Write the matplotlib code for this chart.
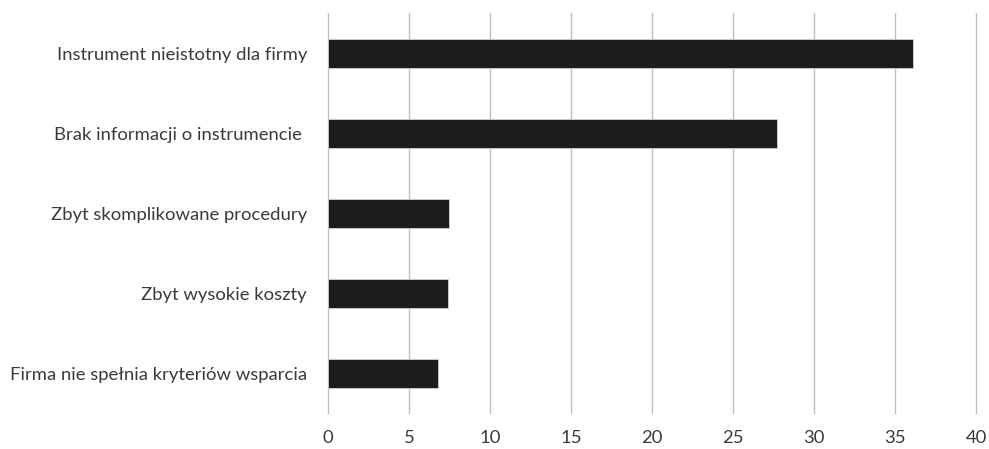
import matplotlib.pyplot as plt

# dane z wykresu
categories = [
    "Instrument nieistotny dla firmy",
    "Brak informacji o instrumencie ",
    "Zbyt skomplikowane procedury",
    "Zbyt wysokie koszty",
    "Firma nie spełnia kryteriów wsparcia",
]
values = [36.1, 27.7, 7.5, 7.4, 6.8]
x_ticks = [0, 5, 10, 15, 20, 25, 30, 35, 40]

plt.rcParams['font.family'] = ['Lato', 'DejaVu Sans']

fig = plt.figure(figsize=(9.89, 4.49), dpi=100)
ax = fig.add_axes([0.3316, 0.0791, 0.6553, 0.8909])

ypos = list(range(len(categories)))
ax.barh(ypos, values, height=0.36, color='#1c1c1c',
        edgecolor='#d0d0d0', linewidth=0.6, zorder=3)

ax.set_xlim(0, 40)
ax.set_ylim(len(categories) - 0.5, -0.5)
ax.set_yticks(ypos)
ax.set_yticklabels(categories)
ax.set_xticks(x_ticks)
ax.set_xticklabels([str(t) for t in x_ticks])

# siatka pionowa jak w Excelu
ax.set_axisbelow(True)
ax.xaxis.grid(True, color='#c0c0c0', linewidth=1.0)
for gl in ax.get_xgridlines():
    gl.set_clip_on(False)  # ostatnia linia (40) nie ma byc przycieta
for s in ax.spines.values():
    s.set_visible(False)

ax.tick_params(axis='both', length=0, colors='#3a3a3a', labelsize=13.3)
ax.tick_params(axis='y', pad=15)
ax.tick_params(axis='x', pad=12)

fig.savefig('out.png', dpi=100)
plt.close(fig)
